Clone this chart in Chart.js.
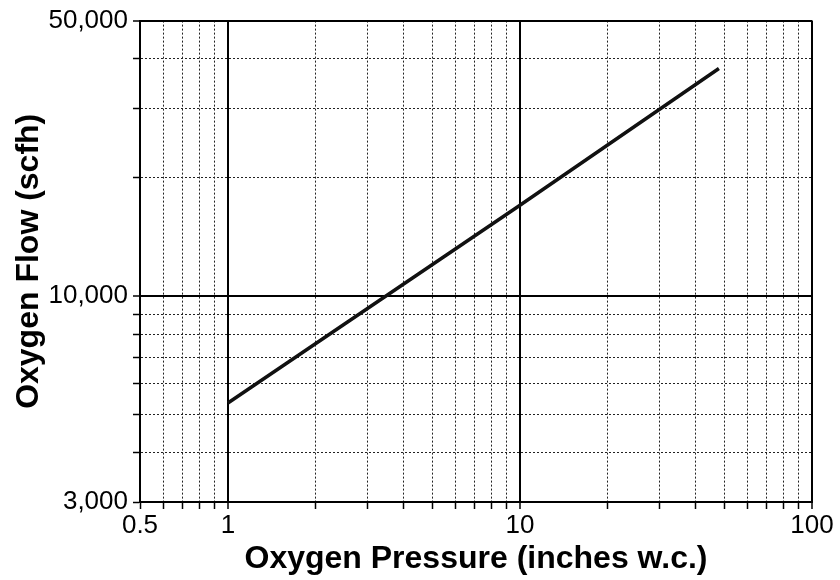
<!DOCTYPE html>
<html>
<head>
<meta charset="utf-8">
<script src="https://cdn.jsdelivr.net/npm/chart.js@4/dist/chart.umd.min.js"></script>
<style>
  body { margin: 0; background: #fff; }
  canvas { display: block; }
</style>
</head>
<body>
<canvas id="myChart" width="840" height="580"></canvas>
<script>
// values
const pressure = [1, 10, 48];
const flow = [5350, 17000, 37800];

// grid / tick positions
const xGrid = [0.5, 0.6, 0.7, 0.8, 0.9, 1, 2, 3, 4, 5, 6, 7, 8, 9, 10, 20, 30, 40, 50, 60, 70, 80, 90, 100];
const xLabeled = [0.5, 1, 10, 100];
const xMajor = [1, 10, 100];
const yGrid = [3000, 4000, 5000, 6000, 7000, 8000, 9000, 10000, 20000, 30000, 40000, 50000];
const yLabeled = [3000, 10000, 50000];
const yMajor = [10000, 50000];

const points = pressure.map((p, i) => ({ x: p, y: flow[i] }));

function tickVal(c) {
    return c && c.tick ? c.tick.value : null;
}

function gridOpts(major) {
    return {
        color: c => major.includes(tickVal(c)) ? '#000' : '#222',
        lineWidth: c => major.includes(tickVal(c)) ? 2 : 1,
        tickColor: '#000',
        tickWidth: 1.5,
        tickLength: 7
    };
}

function borderOpts(major) {
    return {
        color: '#000',
        width: 2,
        dash: c => major.includes(tickVal(c)) ? [] : [2, 2]
    };
}

const ctx = document.getElementById('myChart').getContext('2d');

window.myChart = new Chart(ctx, {
    type: 'scatter',
    data: {
        datasets: [{
            data: points,
            showLine: true,
            borderColor: '#111',
            borderWidth: 3.5,
            pointRadius: 0,
            fill: false
        }]
    },
    options: {
        responsive: false,
        animation: false,
        layout: { padding: { left: 5, right: 28, top: 20, bottom: 1 } },
        plugins: { legend: { display: false }, tooltip: { enabled: false } },
        scales: {
            x: {
                type: 'logarithmic',
                min: 0.5,
                max: 100,
                afterBuildTicks: scale => { scale.ticks = xGrid.map(v => ({ value: v })); },
                afterFit: scale => { scale.height = 77; },
                grid: gridOpts(xMajor),
                border: borderOpts(xMajor),
                ticks: {
                    autoSkip: false,
                    maxRotation: 0,
                    padding: 1,
                    color: '#000',
                    font: { family: 'Liberation Sans', size: 26 },
                    callback: v => xLabeled.includes(v) ? String(v) : ''
                },
                title: {
                    display: true,
                    text: 'Oxygen Pressure (inches w.c.)',
                    color: '#000',
                    font: { family: 'Liberation Sans', size: 32, weight: 'bold' },
                    padding: { top: 0, bottom: 1 }
                }
            },
            y: {
                type: 'logarithmic',
                min: 3000,
                max: 50000,
                afterBuildTicks: scale => { scale.ticks = yGrid.map(v => ({ value: v })); },
                afterFit: scale => { scale.width = 135; },
                grid: gridOpts(yMajor),
                border: borderOpts(yMajor),
                ticks: {
                    autoSkip: false,
                    padding: 5,
                    color: '#000',
                    font: { family: 'Liberation Sans', size: 26 },
                    callback: v => yLabeled.includes(v) ? v.toLocaleString('en-US') : ''
                },
                title: {
                    display: true,
                    text: 'Oxygen Flow (scfh)',
                    color: '#000',
                    font: { family: 'Liberation Sans', size: 32, weight: 'bold' },
                    padding: { top: 5, bottom: 0 }
                }
            }
        }
    }
});
</script>
</body>
</html>
